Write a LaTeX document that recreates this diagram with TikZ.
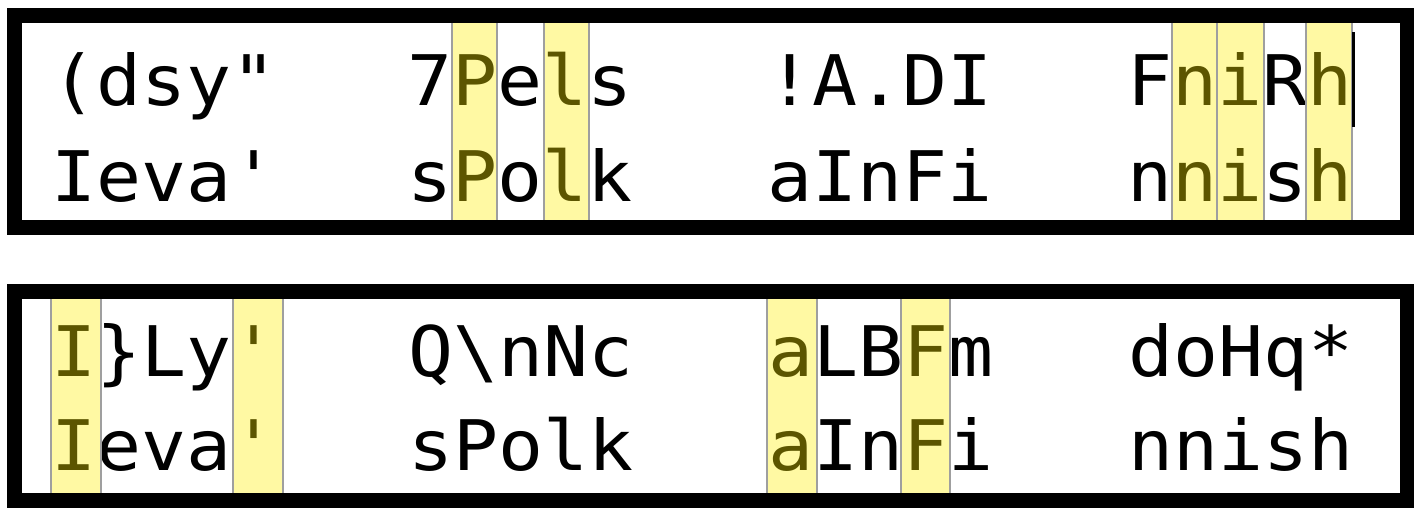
\documentclass[tikz,border=0pt]{standalone}
\usepackage{fontspec}
\setmonofont{DejaVu Sans Mono}[FakeStretch=1.072]
\usepackage{tikz}
\usetikzlibrary{calc}

\begin{document}
\begin{tikzpicture}[x=0.02cm,y=-0.02cm]
\tikzset{frame/.style = {draw, line width=8.5pt},
  word/.style = {anchor=base west, inner sep=0pt, font=\ttfamily\fontsize{39.7}{40}\selectfont},
  hl/.style = {fill={rgb,255:red,255;green,238;blue,0}, fill opacity=0.36, draw=gray!75, line width=1.1pt}}
\useasboundingbox (0,0) rectangle (1416,516);

% top box
\node[word] (ta1) at (51,105.5) {(dsy"};
\node[word] (ta2) at (407,105.5) {7Pels};
\node[word] (ta3) at (767,105.5) {!A.DI};
\node[word] (ta4) at (1127,105.5) {FniRh};
\node[word] (tb1) at (51,202) {Ieva'};
\node[word] (tb2) at (407,202) {sPolk};
\node[word] (tb3) at (767,202) {aInFi};
\node[word] (tb4) at (1127,202) {nnish};

\path[hl] (452,21) rectangle (497,222);
\path[hl] (544,21) rectangle (589,222);
\path[hl] (1172,21) rectangle (1217,222);
\path[hl] (1217,21) rectangle (1264,222);
\path[hl] (1306,21) rectangle (1352,222);
\fill (1352,32) rectangle (1355,127);

\draw[frame] (14.5,15.5) rectangle (1407,227.5);

% bottom box
\node[word] (ba1) at (51,377) {I\}Ly'};
\node[word] (ba2) at (408,377) {Q\textbackslash nNc};
\node[word] (ba3) at (768,377) {aLBFm};
\node[word] (ba4) at (1128,377) {doHq*};
\node[word] (bb1) at (51,471) {Ieva'};
\node[word] (bb2) at (408,471) {sPolk};
\node[word] (bb3) at (768,471) {aInFi};
\node[word] (bb4) at (1128,471) {nnish};

\path[hl] (51,297) rectangle (101,495);
\path[hl] (233,297) rectangle (283,495);
\path[hl] (767,297) rectangle (817,495);
\path[hl] (901,297) rectangle (950,495);

\draw[frame] (14.5,291.5) rectangle (1407,500.5);
\end{tikzpicture}
\end{document}
